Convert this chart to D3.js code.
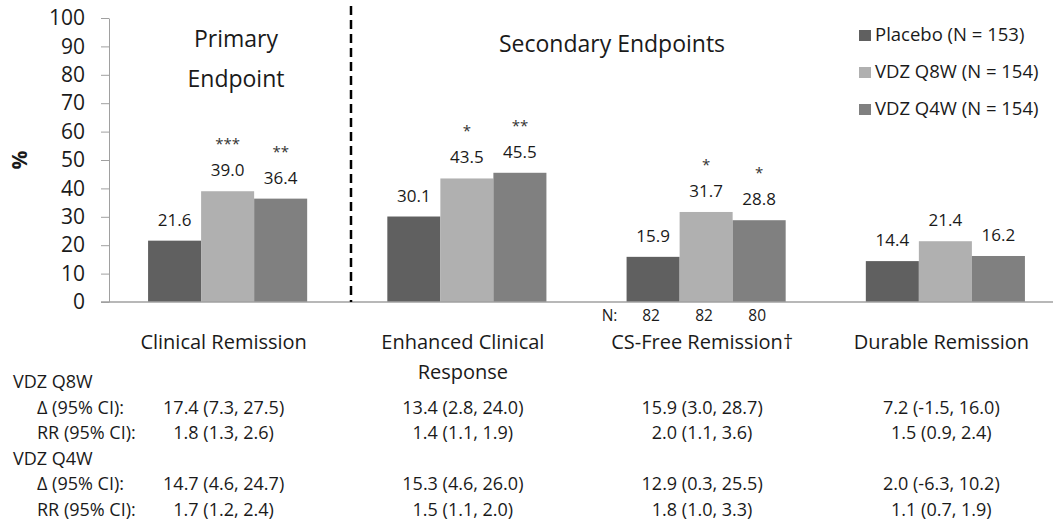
<!DOCTYPE html>
<html>
<head>
<meta charset="utf-8">
<script src="https://cdn.jsdelivr.net/npm/d3@7"></script>
<style>
  body { margin: 0; background: #fff; }
  svg { font-family: "Open Sans", sans-serif; fill: #1a1a1a; }
</style>
</head>
<body>
<svg width="1055" height="527"></svg>
<script>
// data
const categories = [["Clinical Remission"], ["Enhanced Clinical", "Response"], ["CS-Free Remission\u2020"], ["Durable Remission"]];
const seriesNames = ["Placebo (N = 153)", "VDZ Q8W (N = 154)", "VDZ Q4W (N = 154)"];
const placebo = [21.6, 30.1, 15.9, 14.4];
const q8w = [39.0, 43.5, 31.7, 21.4];
const q4w = [36.4, 45.5, 28.8, 16.2];
const q8wStars = ["***", "*", "*", ""];
const q4wStars = ["**", "**", "*", ""];
const csFreeN = [82, 82, 80];
const yTicks = [0, 10, 20, 30, 40, 50, 60, 70, 80, 90, 100];

const q8wDelta = ["17.4 (7.3, 27.5)", "13.4 (2.8, 24.0)", "15.9 (3.0, 28.7)", "7.2 (-1.5, 16.0)"];
const q8wRR = ["1.8 (1.3, 2.6)", "1.4 (1.1, 1.9)", "2.0 (1.1, 3.6)", "1.5 (0.9, 2.4)"];
const q4wDelta = ["14.7 (4.6, 24.7)", "15.3 (4.6, 26.0)", "12.9 (0.3, 25.5)", "2.0 (-6.3, 10.2)"];
const q4wRR = ["1.7 (1.2, 2.4)", "1.5 (1.1, 2.0)", "1.8 (1.0, 3.3)", "1.1 (0.7, 1.9)"];

const colors = ["#606060", "#b0b0b0", "#808080"];
const values = [placebo, q8w, q4w];
const stars = [null, q8wStars, q4wStars];

let svg = d3.select('svg');

let x0 = d3.scaleBand().domain(d3.range(categories.length))
    .range([108, 1065]).paddingInner(0.335).paddingOuter(0.1675);
let x1 = d3.scaleBand().domain(d3.range(seriesNames.length))
    .range([0, x0.bandwidth()]);
let y = d3.scaleLinear().domain([0, 100]).range([302, 18]);

// y axis
let yAxis = svg.append('g')
    .attr('transform', 'translate(109,0)')
    .call(d3.axisLeft(y).tickValues(yTicks).tickSize(8).tickSizeOuter(0).tickPadding(16));
yAxis.select('.domain').attr('stroke', '#a0a0a0');
yAxis.selectAll('.tick line').attr('stroke', '#a0a0a0');
yAxis.selectAll('.tick text')
    .attr('font-size', 21)
    .attr('font-family', '"Open Sans", sans-serif')
    .attr('fill', '#1a1a1a');

svg.append('text')
    .attr('transform', 'translate(27,160) rotate(-90)')
    .attr('text-anchor', 'middle')
    .attr('font-size', 21)
    .attr('font-weight', 'bold')
    .text('%');

// bars
let groups = svg.append('g').selectAll('g')
    .data(categories)
    .enter()
    .append('g')
    .attr('transform', (d, i) => `translate(${x0(i)},0)`);

groups.each(function (c, ci) {
    let g = d3.select(this);
    values.forEach((vals, si) => {
        let v = vals[ci];
        g.append('rect')
            .attr('x', x1(si))
            .attr('y', y(v))
            .attr('width', x1.bandwidth())
            .attr('height', y(0) - y(v))
            .attr('fill', colors[si]);
        g.append('text')
            .attr('x', x1(si) + x1.bandwidth() / 2)
            .attr('y', y(v) - 15)
            .attr('text-anchor', 'middle')
            .attr('font-size', 17)
            .text(v.toFixed(1));
        if (stars[si] && stars[si][ci]) {
            g.append('text')
                .attr('x', x1(si) + x1.bandwidth() / 2)
                .attr('y', y(v) - 42)
                .attr('text-anchor', 'middle')
                .attr('font-size', 15)
                .attr('fill', '#333')
                .text(stars[si][ci]);
        }
    });
});

// baseline
svg.append('line')
    .attr('x1', 101).attr('x2', 1053)
    .attr('y1', y(0)).attr('y2', y(0))
    .attr('stroke', '#a0a0a0')
    .attr('stroke-width', 1.5);

// divider between primary and secondary endpoints
svg.append('line')
    .attr('x1', 351).attr('x2', 351)
    .attr('y1', 6).attr('y2', y(0))
    .attr('stroke', '#000')
    .attr('stroke-width', 2.5)
    .attr('stroke-dasharray', '9,5');

// section headers
svg.append('text').attr('x', 236).attr('y', 47).attr('text-anchor', 'middle')
    .attr('font-size', 23).text('Primary');
svg.append('text').attr('x', 236).attr('y', 87).attr('text-anchor', 'middle')
    .attr('font-size', 23).text('Endpoint');
svg.append('text').attr('x', 612).attr('y', 52).attr('text-anchor', 'middle')
    .attr('font-size', 23).text('Secondary Endpoints');

// category labels
const catCenter = i => x0(i) + x0.bandwidth() / 2 - 4;
categories.forEach((lines, i) => {
    let t = svg.append('text')
        .attr('text-anchor', 'middle')
        .attr('font-size', 20);
    lines.forEach((l, li) => {
        t.append('tspan')
            .attr('x', catCenter(i))
            .attr('y', 349 + li * 30)
            .text(l);
    });
});

// N row for CS-free remission
svg.append('text')
    .attr('x', x0(2) + x1(0) - 17)
    .attr('y', 321)
    .attr('text-anchor', 'middle')
    .attr('font-size', 15.5)
    .text('N:');
csFreeN.forEach((n, si) => {
    svg.append('text')
        .attr('x', x0(2) + x1(si) + x1.bandwidth() / 2 - 2)
        .attr('y', 321)
        .attr('text-anchor', 'middle')
        .attr('font-size', 15.5)
        .text(n);
});

// legend
let legend = svg.append('g').selectAll('g')
    .data(seriesNames)
    .enter()
    .append('g')
    .attr('transform', (d, i) => `translate(859,${41 + i * 37})`);
legend.append('rect')
    .attr('x', 0).attr('y', -11)
    .attr('width', 12).attr('height', 11)
    .attr('fill', (d, i) => colors[i]);
legend.append('text')
    .attr('x', 16).attr('y', 0)
    .attr('font-size', 18.5)
    .text(d => d);

// table under the chart
const tableRows = [
    { label: 'VDZ Q8W', indent: false, cells: null },
    { label: '\u0394 (95% CI):', indent: true, cells: q8wDelta },
    { label: 'RR (95% CI):', indent: true, cells: q8wRR },
    { label: 'VDZ Q4W', indent: false, cells: null },
    { label: '\u0394 (95% CI):', indent: true, cells: q4wDelta },
    { label: 'RR (95% CI):', indent: true, cells: q4wRR },
];
tableRows.forEach((row, ri) => {
    let by = 388 + ri * 25.6;
    svg.append('text')
        .attr('x', row.indent ? 37 : 13)
        .attr('y', by)
        .attr('font-size', 18)
        .text(row.label);
    if (row.cells) {
        row.cells.forEach((c, ci) => {
            svg.append('text')
                .attr('x', catCenter(ci))
                .attr('y', by)
                .attr('text-anchor', 'middle')
                .attr('font-size', 18)
                .text(c);
        });
    }
});
</script>
</body>
</html>
